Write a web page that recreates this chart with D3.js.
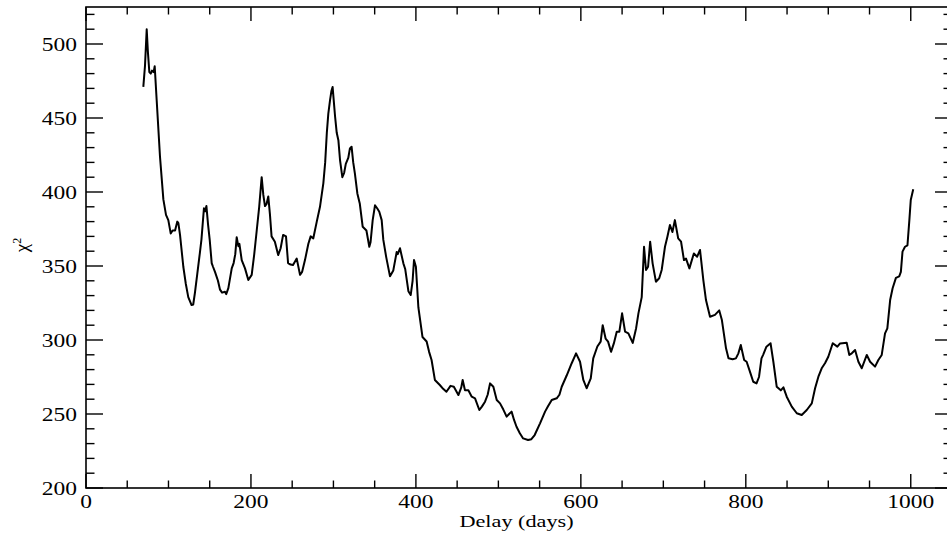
<!DOCTYPE html>
<html>
<head>
<meta charset="utf-8">
<script src="https://cdn.jsdelivr.net/npm/d3@7"></script>
<style>
  html, body { margin: 0; padding: 0; background: #fff; }
  svg { display: block; }
  text { font-family: "Liberation Serif", "DejaVu Serif", serif; fill: #000; }
</style>
</head>
<body>
<svg id="chart" width="947" height="538"></svg>
<script>
// ---- data ----
const delays = [69.5,71.5,73.6,75,76.8,78.5,80,82,83.3,85.7,89.7,93.8,97,99.8,102.7,105,108,110.7,112,114,118,121,124,128,130,132,135,138,140,143,144.5,146,148,150,152.4,154,156.4,160,162.5,165,168.5,170,172.6,176.7,179,181,182.7,184.7,186,188.8,192.8,196.8,200.9,204,207,210,213,215,217,219,221,223,225,229,233,236,239,242.5,245,248,251,255.5,259.5,262,265.5,269.6,272.4,275.6,279.8,283.7,287.8,290,292,293.8,295.9,297.5,299,302,304,306,308,310.8,313,315,318,320,322,324,326,329,332,335.5,340,343.5,345,347.6,350.4,353,355.6,358.5,360.5,364,368.6,372.6,376.7,378,380.7,384.8,387,390.9,393.7,396,397.7,400,403,408,413,416,419,423,429,433,437,442,446,451.5,455,456.7,459.5,463.6,467.7,471.7,476.9,480,483.8,487,489.9,493.9,498,502,506,510,513,516,519,522,526,530,536,540,544,550.5,556.6,560,564.7,570.7,574,576.8,582.8,588.9,594.2,599,603,607,612,615,620,624,626.5,630,633,636.6,640,643.5,646.7,650,653.6,657.6,662.9,667,669.8,673.8,676.6,679,681.5,684,687,691,695,698,702,705,708,711,714,718,721.5,725,727.5,731.6,737,741,744.5,748.5,751.7,756.6,762.6,767.8,771,776,779,784,788,791,793.9,798,801,805,809,813,816,819,821,825,830,833.4,837.5,842.4,845.6,849.6,855.7,861.8,867.8,873.9,880,884,888,892,896,900,905.4,911,914.3,922.3,925.5,928.5,932.5,936.5,940.6,946.7,950.7,956.7,960.7,964.8,968.8,971.6,975,978,982,986,988,990,993,996,998.3,1000,1003];
const chi2 = [471,485,510,495,481,480,482,481,485,462,424,395,384.5,381,372,374,374,380,379,371,349.5,338,329,323.6,324,331.6,345,358.6,368,389,387,390.5,378,367.6,352,349.5,346,340,334,332,332.6,331,335,348.4,352,358,369.4,363.4,365,354,348.4,340.5,344,358,374,390,410,398,390.5,392,397,385,370,366.4,357.4,362,371,370,352,351,350.7,355,344,346,354,365,370,368.7,380,390,406,420,440,453,462,468,471,451,440,435,421.6,410,413,419,423,429.5,430.6,420,412.6,399,392,376.5,374,363,366,381,391,389,386.7,381,367.6,356,343,347,359.5,358,362,351.8,348,333,330.4,340,354,349.5,322,302,299,292,286.5,273,269.6,267,265,269,268.4,262.8,268,273,266,266,261.7,260.6,252.7,255,258.3,263,270.7,268.4,259.5,257.2,253,248.2,250,251.6,246,241.4,237,233.5,232.4,233,235.8,243.7,251.6,255,259.5,260.6,263,268.4,276,284.3,291,285.3,273,267.4,274,287.6,295.6,298.9,310,301,298.9,292,297.7,305.6,305.6,318,305.6,304.5,298,308,318,329,363,347.3,349.5,366.4,351.8,339.4,341.7,347.3,363,370,377.7,373,381,368.7,366.4,354,355,348.4,358.5,356.3,360.8,340.5,327,315.7,317,320,313.5,294.4,287.6,287,287.6,291,296.6,286.5,285.3,278.6,271.8,270.7,275,287.6,290,295.5,297.8,285.3,268.4,266,268,261.7,255,250.5,249.3,252.7,257.2,267.4,275.2,280.9,284.3,288.7,297.8,295.5,297.7,298.2,289.9,291,293.2,285.3,280.9,289.9,285.3,282,286.5,289.9,304.5,307.9,327,335,342,343,346,359.7,363,364,381,394.6,401.8];
const xMajorTicks = [0, 200, 400, 600, 800, 1000];
const yMajorTicks = [200, 250, 300, 350, 400, 450, 500];
const xLabel = "Delay (days)";

// ---- layout ----
const svg = d3.select("#chart");
const L = 86, R = 952, T = 7, B = 488;
const x = d3.scaleLinear().domain([0, 1050]).range([L, R]);
const y = d3.scaleLinear().domain([200, 525]).range([B, T]);
const SX = 1.27;   // horizontal stretch of glyphs as seen in reference

// frame
svg.append("rect").attr("x", L).attr("y", T).attr("width", R - L).attr("height", B - T)
  .attr("fill", "none").attr("stroke", "#000").attr("stroke-width", 1.6);

const g = svg.append("g").attr("stroke", "#000").attr("stroke-width", 1.4);
// x ticks (bottom and top)
d3.range(0, 1051, 50).forEach(v => {
  const major = v % 200 === 0;
  const len = major ? 14 : 7.5;
  g.append("line").attr("x1", x(v)).attr("x2", x(v)).attr("y1", B).attr("y2", B - len);
  g.append("line").attr("x1", x(v)).attr("x2", x(v)).attr("y1", T).attr("y2", T + len);
});
// y ticks (left and right)
d3.range(200, 526, 10).forEach(v => {
  const major = v % 50 === 0;
  const len = major ? 17 : 8.5;
  g.append("line").attr("y1", y(v)).attr("y2", y(v)).attr("x1", L).attr("x2", L + len);
  g.append("line").attr("y1", y(v)).attr("y2", y(v)).attr("x1", R).attr("x2", R - len);
});

// tick labels
xMajorTicks.forEach(v => {
  svg.append("text")
    .attr("transform", `translate(${x(v)},508) scale(${SX},1)`)
    .attr("text-anchor", "middle").attr("font-size", 18.5).text(v);
});
yMajorTicks.forEach(v => {
  svg.append("text")
    .attr("transform", `translate(77,${y(v) + 7}) scale(${SX},1)`)
    .attr("text-anchor", "end").attr("font-size", 18.5).text(v);
});

// axis titles
svg.append("text")
  .attr("transform", `translate(${(86 + 947) / 2},527) scale(${SX},1)`)
  .attr("text-anchor", "middle").attr("font-size", 17.5).text(xLabel);
const yl = svg.append("text")
  .attr("transform", "translate(28,245) rotate(-90)")
  .attr("text-anchor", "middle").attr("font-size", 19);
yl.append("tspan").text("χ");
yl.append("tspan").attr("dy", -7).attr("font-size", 12).text("2");

// the curve
const pts = delays.map((d, i) => [d, chi2[i]]);
svg.append("path")
  .datum(pts)
  .attr("fill", "none").attr("stroke", "#000").attr("stroke-width", 2)
  .attr("stroke-linejoin", "round")
  .attr("d", d3.line().x(d => x(d[0])).y(d => y(d[1])));
</script>
</body>
</html>
